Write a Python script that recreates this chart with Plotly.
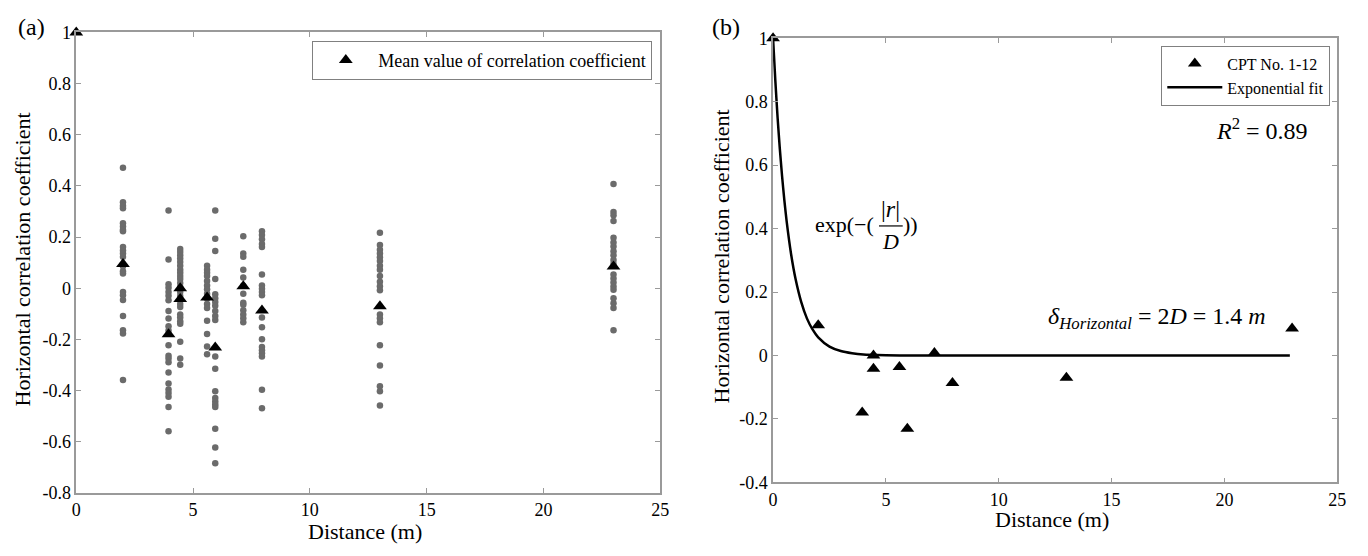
import plotly.graph_objects as go

# ---------------- data ----------------
# panel (a): individual correlation coefficients, grouped by distance (m)
col_dist = [2, 3.95, 4.45, 5.6, 5.95, 7.15, 7.95, 13, 23]
corr_2m = [0.471, 0.336, 0.323, 0.313, 0.254, 0.242, 0.229, 0.223, 0.161, 0.148, 0.136,
           0.123, 0.086, 0.067, 0.058, -0.014, -0.027, -0.046, -0.108, -0.164, -0.177, -0.358]
corr_4m = [0.304, 0.113, 0.016, 0.002, -0.014, -0.029, -0.047, -0.089, -0.118, -0.148, -0.165,
           -0.223, -0.264, -0.274, -0.289, -0.329, -0.372, -0.396, -0.409, -0.424, -0.464, -0.559]
corr_4_5m = [0.154, 0.142, 0.129, 0.116, 0.103, 0.088, 0.073, 0.061, 0.048, 0.036, 0.021, 0.005,
             -0.014, -0.03, -0.046, -0.061, -0.073, -0.102, -0.114, -0.129, -0.139, -0.209, -0.274, -0.299]
corr_5_6m = [0.088, 0.073, 0.061, 0.048, 0.029, 0.011, -0.004, -0.021, -0.04, -0.061, -0.077,
             -0.127, -0.179, -0.227, -0.258]
corr_6m = [0.304, 0.194, 0.146, 0.036, -0.023, -0.039, -0.054, -0.068, -0.089, -0.108, -0.124,
           -0.267, -0.314, -0.402, -0.429, -0.442, -0.454, -0.464, -0.549, -0.622, -0.684]
corr_7_2m = [0.203, 0.136, 0.123, 0.073, 0.042, 0.01, -0.021, -0.056, -0.064, -0.086, -0.102,
             -0.117, -0.133]
corr_8m = [0.223, 0.208, 0.192, 0.173, 0.161, 0.054, 0.011, -0.002, -0.014, -0.027, -0.114,
           -0.152, -0.199, -0.229, -0.242, -0.254, -0.267, -0.397, -0.469]
corr_13m = [0.217, 0.169, 0.151, 0.136, 0.121, 0.107, 0.088, 0.073, 0.048, 0.026, 0.008, -0.008,
            -0.102, -0.117, -0.133, -0.223, -0.302, -0.383, -0.402, -0.458]
corr_23m = [0.408, 0.298, 0.286, 0.263, 0.198, 0.179, 0.163, 0.145, 0.129, 0.111, 0.095, 0.054,
            0.038, 0.023, 0.007, -0.006, -0.039, -0.058, -0.077, -0.164]
col_corr = [corr_2m, corr_4m, corr_4_5m, corr_5_6m, corr_6m, corr_7_2m, corr_8m, corr_13m, corr_23m]

# mean values (both panels)
mean_dist = [0, 2, 3.95, 4.45, 4.45, 5.6, 5.95, 7.15, 7.95, 13, 23]
mean_corr = [1, 0.095, -0.18, 0.0, -0.042, -0.036, -0.231, 0.008, -0.087, -0.07, 0.085]

# exponential fit curve
fit_dist = [0, 0.1, 0.2, 0.3, 0.4, 0.5, 0.6, 0.8, 1.0, 1.25, 1.5, 1.75, 2.0, 2.5, 3.0, 3.5, 4.0, 5.0, 6.0, 22.9]
fit_corr = [1, 0.867, 0.751, 0.651, 0.565, 0.49, 0.424, 0.319, 0.24, 0.168, 0.117, 0.082, 0.057,
            0.028, 0.014, 0.007, 0.003, 0.001, 0.0, 0.0]

x_ticks = [0, 5, 10, 15, 20, 25]
x_ticktext = ["0", "5", "10", "15", "20", "25"]
ya_ticks = [-0.8, -0.6, -0.4, -0.2, 0, 0.2, 0.4, 0.6, 0.8, 1]
ya_ticktext = ["-0.8", "-0.6", "-0.4", "-0.2", "0", "0.2", "0.4", "0.6", "0.8", "1"]
yb_ticks = [-0.4, -0.2, 0, 0.2, 0.4, 0.6, 0.8, 1]
yb_ticktext = ["-0.4", "-0.2", "0", "0.2", "0.4", "0.6", "0.8", "1"]

# ---------------- figure ----------------
W, H = 1368, 556
FONT = "Liberation Serif"
AX = "#9a9a9a"


def px(x, y):
    return x / W, 1 - y / H


dots_x, dots_y = [], []
for d, vals in zip(col_dist, col_corr):
    dots_x += [d] * len(vals)
    dots_y += vals

fig = go.Figure()
fig.add_trace(go.Scatter(x=dots_x, y=dots_y, mode="markers", xaxis="x", yaxis="y",
                         marker=dict(color="#6b6b6b", size=6.5), showlegend=False,
                         cliponaxis=False))
fig.add_trace(go.Scatter(x=mean_dist, y=mean_corr, mode="markers", xaxis="x", yaxis="y",
                         name="Mean value of correlation coefficient", legend="legend",
                         marker=dict(color="black", symbol="triangle-up", size=12),
                         cliponaxis=False))
fig.add_trace(go.Scatter(x=mean_dist, y=mean_corr, mode="markers", xaxis="x2", yaxis="y2",
                         name="CPT No. 1-12", legend="legend2",
                         marker=dict(color="black", symbol="triangle-up", size=12),
                         cliponaxis=False))
fig.add_trace(go.Scatter(x=fit_dist, y=fit_corr, mode="lines", xaxis="x2", yaxis="y2",
                         name="Exponential fit", legend="legend2",
                         line=dict(color="black", width=2.5, shape="spline", smoothing=0.6),
                         cliponaxis=False))

axis_common = dict(showline=True, linecolor=AX, linewidth=1.5, mirror="ticks", ticks="inside",
                   ticklen=5, tickcolor=AX, tickwidth=1, showgrid=False, zeroline=False,
                   tickfont=dict(family=FONT, size=18, color="black"))

fig.update_layout(
    width=W, height=H, autosize=False,
    margin=dict(l=0, r=0, t=0, b=0),
    paper_bgcolor="white", plot_bgcolor="white",
    font=dict(family=FONT, color="black"),
    xaxis=dict(domain=[72 / W, 662 / W], range=[0, 25], tickvals=x_ticks, ticktext=x_ticktext,
               anchor="y", **axis_common),
    yaxis=dict(domain=[1 - 501 / H, 1 - 23.3 / H], range=[-0.8, 1], tickvals=ya_ticks,
               ticktext=ya_ticktext, anchor="x", **axis_common),
    xaxis2=dict(domain=[776 / W, 1346 / W], range=[0, 25], tickvals=x_ticks, ticktext=x_ticktext,
                anchor="y2", **axis_common),
    yaxis2=dict(domain=[1 - 490 / H, 1 - 29.3 / H], range=[-0.4, 1], tickvals=yb_ticks,
                ticktext=yb_ticktext, anchor="x2", **axis_common),
    legend=dict(x=654 / W, xanchor="right", y=1 - 32 / H, yanchor="top",
                bordercolor="#808080", borderwidth=1, bgcolor="white",
                font=dict(family=FONT, size=18, color="black"), itemwidth=55,
                tracegroupgap=0),
    legend2=dict(x=1339 / W, xanchor="right", y=1 - 37 / H, yanchor="top",
                 bordercolor="#808080", borderwidth=1, bgcolor="white",
                 font=dict(family=FONT, size=16, color="black"), itemwidth=55,
                 tracegroupgap=0),
)

annotations = []


def ann(text, x, y, size, xanchor="center", yanchor="middle", angle=0):
    ax_, ay_ = px(x, y)
    annotations.append(dict(text=text, x=ax_, y=ay_, xref="paper", yref="paper",
                            xanchor=xanchor, yanchor=yanchor, showarrow=False, textangle=angle,
                            font=dict(family=FONT, size=size, color="black")))


ann("(a)", 27, 18, 24)
ann("(b)", 728, 18, 24)
ann("Horizontal correlation coefficient", 18, 259, 22, angle=-90)
ann("Horizontal correlation coefficient", 724, 256, 22, angle=-90)
ann("Distance (m)", 364, 541, 22)
ann("Distance (m)", 1058, 528, 22)
ann("<i>R</i><sup>2</sup> = 0.89", 1270, 123, 24)
ann("<i>δ</i><sub><i>Horizontal</i></sub> = 2<i>D</i> = 1.4 <i>m</i>", 1164, 320, 24)
ann("exp(−(", 880, 222, 22, xanchor="right")
ann("|<i>r</i>|", 895, 206, 24)
ann("<i>D</i>", 895, 240, 22)
ann("))", 905, 222, 22, xanchor="left")
fig.update_layout(annotations=annotations)

x0, y0 = px(883, 224)
x1, _ = px(907, 224)
fig.add_shape(type="line", xref="paper", yref="paper", x0=x0, x1=x1, y0=y0, y1=y0,
              line=dict(color="black", width=1.2))

fig.write_html("out.html")
